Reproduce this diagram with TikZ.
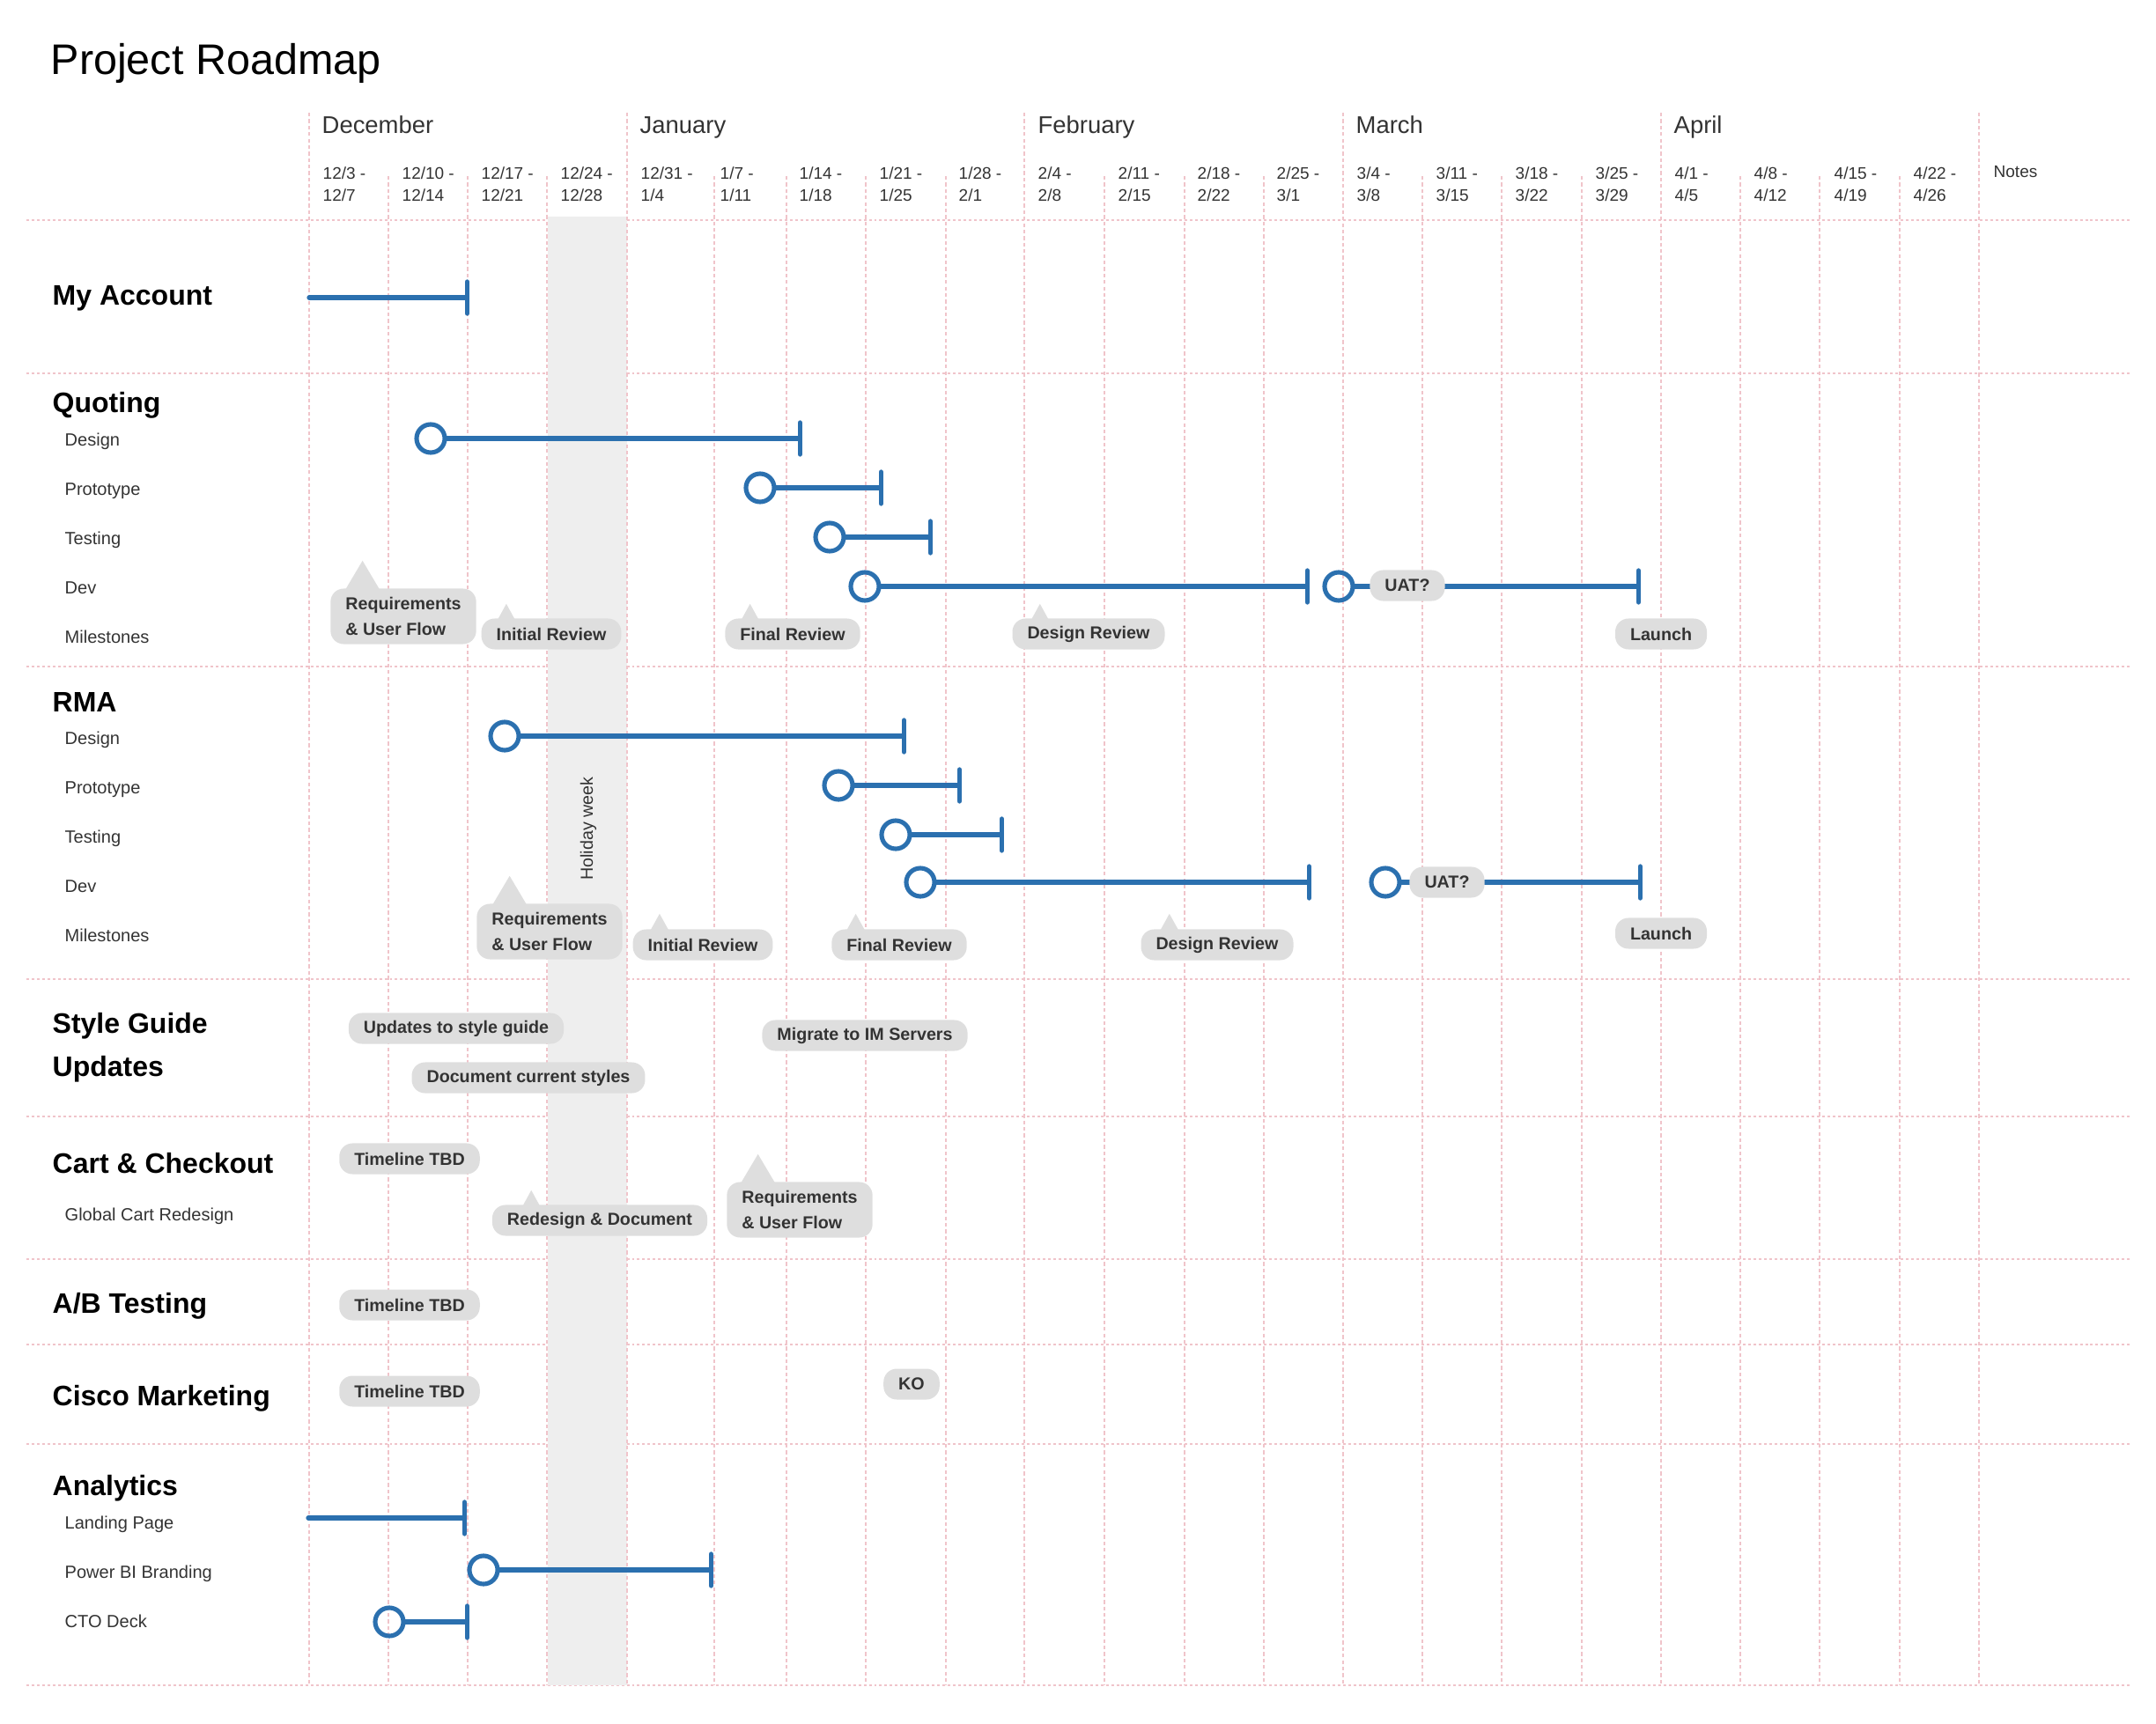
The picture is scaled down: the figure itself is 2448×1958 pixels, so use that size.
\documentclass[tikz,border=0pt]{standalone}
\usepackage{fontspec}
\setmainfont{Liberation Sans}
\usepackage{xcolor}
\definecolor{barblue}{RGB}{43,112,175}
\definecolor{pillgray}{RGB}{222,222,222}
\definecolor{holiday}{RGB}{238,238,238}
\definecolor{gridpink}{RGB}{240,196,202}
\definecolor{darktext}{RGB}{51,51,51}
\usepackage{tikz}
\usetikzlibrary{arrows.meta}
\newcommand{\callouttip}[3]{\fill[pillgray] (#1.north west) ++({#2-0.65*#3},3) -- ++({0.65*#3},{-#3-3}) -- ++({0.65*#3},{#3+3}) -- cycle;}

\begin{document}
\begin{tikzpicture}[x=0.01cm,y=-0.01cm]
  \tikzstyle{heading}=[anchor=base west,inner sep=0,font=\fontsize{13.8}{16}\selectfont]
  \tikzstyle{month}=[anchor=base west,inner sep=0,text=darktext,font=\fontsize{7.8}{9}\selectfont]
  \tikzstyle{week}=[anchor=north west,inner sep=0,align=left,text=darktext,font=\fontsize{5.4}{7.1}\selectfont]
  \tikzstyle{grouplabel}=[anchor=base west,inner sep=0,align=left,font=\bfseries\fontsize{9.1}{13.9}\selectfont]
  \tikzstyle{task}=[anchor=base west,inner sep=0,text=darktext,font=\fontsize{5.7}{7}\selectfont]
  \tikzstyle{pill}=[fill=pillgray,rounded corners=0.15cm,inner xsep=0.17cm,inner ysep=0,minimum height=0.35cm,text=darktext,font=\bfseries\fontsize{5.6}{8}\selectfont]
  \tikzstyle{bigpill}=[pill,align=left,minimum height=0.63cm]
  \tikzstyle{startring}=[circle,draw=barblue,line width=1.45pt,minimum size=0.32cm,inner sep=0]
  \tikzstyle{taskbar}=[draw=barblue,line width=1.5pt,line cap=round,-{Bar[width=0.36cm,round]}]
  \tikzstyle{hline}=[draw=gridpink,line width=0.3pt,dash pattern=on 0.85pt off 0.85pt]
  \tikzstyle{vline}=[draw=gridpink,line width=0.3pt,dash pattern=on 1.2pt off 0.9pt]

  \useasboundingbox (0,0) rectangle (2448,1958);

  % grid
  \foreach \y in {250,424,757,1112,1268,1430,1527,1640,1914}
    \draw[hline] (30,\y) -- (2418,\y);
  \fill[holiday] (622,246) rectangle (712,1914);
  \foreach \x in {351,712,1163,1525,1886,2247}
    \draw[vline] (\x,128) -- (\x,1914);
  \foreach \x in {441,531,621,811,893,983,1074,1254,1345,1435,1615,1705,1796,1976,2066,2157}
    \draw[vline] (\x,200) -- (\x,1914);
  \node[rotate=90,text=darktext,font=\fontsize{5.6}{7}\selectfont] (hw) at (668,941) {Holiday week};

  % header
  \node[heading] (title) at (57,85) {Project Roadmap};
  \node[month] (dec) at (365,152) {December};
  \node[month] (jan) at (726,152) {January};
  \node[month] (feb) at (1178,152) {February};
  \node[month] (mar) at (1539,152) {March};
  \node[month] (apr) at (1900,152) {April};
  \foreach \x/\w in {366/{12/3 -\\12/7},456/{12/10 -\\12/14},546/{12/17 -\\12/21},636/{12/24 -\\12/28},
      727/{12/31 -\\1/4},817/{1/7 -\\1/11},907/{1/14 -\\1/18},998/{1/21 -\\1/25},1088/{1/28 -\\2/1},
      1178/{2/4 -\\2/8},1269/{2/11 -\\2/15},1359/{2/18 -\\2/22},1449/{2/25 -\\3/1},
      1540/{3/4 -\\3/8},1630/{3/11 -\\3/15},1720/{3/18 -\\3/22},1811/{3/25 -\\3/29},
      1901/{4/1 -\\4/5},1991/{4/8 -\\4/12},2082/{4/15 -\\4/19},2172/{4/22 -\\4/26}}
    \node[week] (w\x) at (\x,189) {\w};
  \node[week,anchor=base west] (notes) at (2263,202) {Notes};

  % row labels
  \node[grouplabel] (acct) at (59,347) {My Account};
  \node[grouplabel] (quo) at (59,469) {Quoting};
  \node[task] (quo1) at (73,507) {Design};
  \node[task] (quo2) at (73,563) {Prototype};
  \node[task] (quo3) at (73,619) {Testing};
  \node[task] (quo4) at (73,674) {Dev};
  \node[task] (quo5) at (73,730) {Milestones};
  \node[grouplabel] (rma) at (59,808) {RMA};
  \node[task] (rma1) at (73,845) {Design};
  \node[task] (rma2) at (73,901) {Prototype};
  \node[task] (rma3) at (73,957) {Testing};
  \node[task] (rma4) at (73,1013) {Dev};
  \node[task] (rma5) at (73,1069) {Milestones};
  \node[grouplabel,anchor=north west] (sty) at (59,1150) {Style Guide\\Updates};
  \node[grouplabel] (cart) at (59,1332) {Cart \& Checkout};
  \node[task] (cart1) at (73,1386) {Global Cart Redesign};
  \node[grouplabel] (ab) at (59,1491) {A/B Testing};
  \node[grouplabel] (cisco) at (59,1596) {Cisco Marketing};
  \node[grouplabel] (ana) at (59,1698) {Analytics};
  \node[task] (ana1) at (73,1736) {Landing Page};
  \node[task] (ana2) at (73,1792) {Power BI Branding};
  \node[task] (ana3) at (73,1848) {CTO Deck};

  % bars
  \coordinate (acct0) at (351,338);  \coordinate (acct1) at (533,338);
  \node[startring] (qd0) at (489,498) {};   \coordinate (qd1) at (911,498);
  \node[startring] (qp0) at (863,554) {};   \coordinate (qp1) at (1003,554);
  \node[startring] (qt0) at (942,610) {};   \coordinate (qt1) at (1059,610);
  \node[startring] (qv0) at (982,666) {};   \coordinate (qv1) at (1487,666);
  \node[startring] (qu0) at (1520,666) {};  \coordinate (qu1) at (1863,666);
  \node[startring] (rd0) at (573,836) {};   \coordinate (rd1) at (1029,836);
  \node[startring] (rp0) at (952,892) {};   \coordinate (rp1) at (1092,892);
  \node[startring] (rt0) at (1017,948) {};  \coordinate (rt1) at (1140,948);
  \node[startring] (rv0) at (1045,1002) {}; \coordinate (rv1) at (1489,1002);
  \node[startring] (ru0) at (1573,1002) {}; \coordinate (ru1) at (1865,1002);
  \coordinate (lp0) at (350,1724);  \coordinate (lp1) at (530,1724);
  \node[startring] (pb0) at (549,1783) {};  \coordinate (pb1) at (810,1783);
  \node[startring] (cto0) at (442,1842) {}; \coordinate (cto1) at (533,1842);

  \path (acct0) edge[taskbar] (acct1)
        (qd0) edge[taskbar] (qd1)
        (qp0) edge[taskbar] (qp1)
        (qt0) edge[taskbar] (qt1)
        (qv0) edge[taskbar] (qv1)
        (qu0) edge[taskbar] (qu1)
        (rd0) edge[taskbar] (rd1)
        (rp0) edge[taskbar] (rp1)
        (rt0) edge[taskbar] (rt1)
        (rv0) edge[taskbar] (rv1)
        (ru0) edge[taskbar] (ru1)
        (lp0) edge[taskbar] (lp1)
        (pb0) edge[taskbar] (pb1)
        (cto0) edge[taskbar] (cto1);

  % milestones and notes
  \node[pill] (quat) at (1598,665) {UAT?};
  \node[bigpill] (qreq) at (458,700) {Requirements\\\& User Flow};
  \node[pill] (qinit) at (626,720) {Initial Review};
  \node[pill] (qfin) at (900,720) {Final Review};
  \node[pill] (qdes) at (1236,720) {Design Review};
  \node[pill] (qlaunch) at (1886,720) {Launch};
  \callouttip{qreq}{37}{31}
  \callouttip{qinit}{29}{16}
  \callouttip{qfin}{29}{16}
  \callouttip{qdes}{32}{16}

  \node[pill] (ruat) at (1643,1002) {UAT?};
  \node[bigpill] (rreq) at (624,1058) {Requirements\\\& User Flow};
  \node[pill] (rinit) at (798,1073) {Initial Review};
  \node[pill] (rfin) at (1021,1073) {Final Review};
  \node[pill] (rdes) at (1382,1073) {Design Review};
  \node[pill] (rlaunch) at (1886,1060) {Launch};
  \callouttip{rreq}{38}{31}
  \callouttip{rinit}{31}{17}
  \callouttip{rfin}{28}{17}
  \callouttip{rdes}{33}{17}

  \node[pill] (sgupd) at (518,1168) {Updates to style guide};
  \node[pill] (sgdoc) at (600,1224) {Document current styles};
  \node[pill] (sgmig) at (982,1176) {Migrate to IM Servers};

  \node[pill] (ctbd) at (465,1316) {Timeline TBD};
  \node[pill] (credo) at (681,1386) {Redesign \& Document};
  \node[bigpill] (creq) at (908,1374) {Requirements\\\& User Flow};
  \callouttip{credo}{45}{16}
  \callouttip{creq}{36}{31}

  \node[pill] (abtbd) at (465,1482) {Timeline TBD};
  \node[pill] (cmtbd) at (465,1580) {Timeline TBD};
  \node[pill] (cmko) at (1035,1572) {KO};
\end{tikzpicture}
\end{document}
